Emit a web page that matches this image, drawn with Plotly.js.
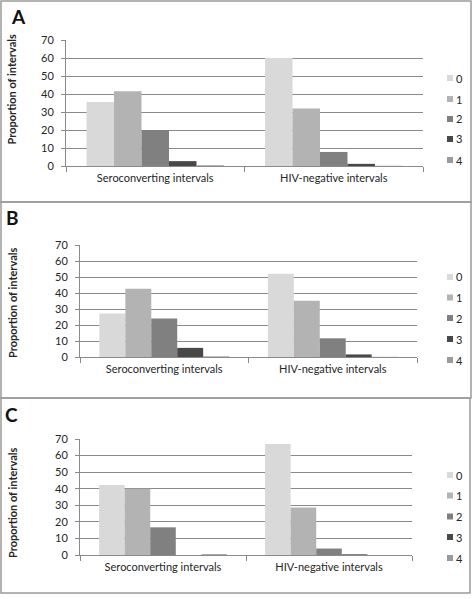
<!DOCTYPE html>
<html>
<head>
<meta charset="utf-8">
<script src="https://cdn.plot.ly/plotly-3.0.1.min.js"></script>
<style>html,body{margin:0;padding:0;background:#fff;}#chart{width:473px;height:599px;}</style>
</head>
<body>
<div id="chart"></div>
<script>
// ---- data ----
const categories = ['Seroconverting intervals', 'HIV-negative intervals'];
const seriesNames = ['0', '1', '2', '3', '4'];
const panelLabels = ['A', 'B', 'C'];
const yTitle = 'Proportion of intervals';

// Panel A values by series (Seroconverting, HIV-negative)
const A0 = [35.5, 60];
const A1 = [41.5, 32];
const A2 = [20, 7.8];
const A3 = [2.7, 1.2];
const A4 = [0.4, 0.1];
// Panel B
const B0 = [27.2, 52];
const B1 = [42.7, 35.2];
const B2 = [24, 11.7];
const B3 = [5.7, 1.6];
const B4 = [0.4, 0.1];
// Panel C
const C0 = [42.3, 67];
const C1 = [40, 28.7];
const C2 = [16.7, 3.9];
const C3 = [0, 0.4];
const C4 = [0.5, 0];

const colors = ['#d9d9d9', '#b3b3b3', '#808080', '#484848', '#9a9a9a'];

// ---- layout helpers ----
const W = 473, H = 599;
const px = x => x / W;
const py = y => 1 - y / H;
const FONT = 'Lato, "Liberation Sans", sans-serif';
const TXT = '#262626';
const LINE = '#8a8a8a';

const panels = [
  {vals: [A0, A1, A2, A3, A4], x: [66, 423], y: [40, 166], box: [1, 1, 471, 202],
   label: [18, 16.5], title: [10.5, 90], legY: [78, 99, 119, 139, 160]},
  {vals: [B0, B1, B2, B3, B4], x: [80, 417], y: [245, 357], box: [1, 202, 471, 398],
   label: [12, 217], title: [12.5, 303.5], legY: [277, 297.5, 318, 339, 360]},
  {vals: [C0, C1, C2, C3, C4], x: [80, 412], y: [439, 555], box: [1, 398, 470, 593],
   label: [11.5, 414.5], title: [12.5, 503.5], legY: [475, 495.5, 516.5, 537, 558]}
];

const data = [];
const layout = {
  width: W, height: H,
  margin: {l: 0, r: 0, t: 0, b: 0},
  paper_bgcolor: '#fff', plot_bgcolor: '#fff',
  barmode: 'group', bargap: 0.23, bargroupgap: 0,
  showlegend: false,
  font: {family: FONT, size: 11, color: TXT},
  shapes: [], annotations: []
};

panels.forEach((p, k) => {
  const s = k === 0 ? '' : String(k + 1);
  p.vals.forEach((v, i) => {
    data.push({
      type: 'bar', x: categories, y: v, name: seriesNames[i],
      marker: {color: colors[i], line: {width: 0}},
      xaxis: 'x' + s, yaxis: 'y' + s, hoverinfo: 'skip'
    });
  });
  layout['xaxis' + s] = {
    domain: [px(p.x[0]), px(p.x[1])], anchor: 'y' + s,
    type: 'category', showline: true, linecolor: LINE, linewidth: 1,
    ticks: 'outside', tickson: 'boundaries', ticklen: 5, tickcolor: LINE, tickwidth: 1,
    showgrid: false, zeroline: false, ticklabelstandoff: 2,
    tickfont: {family: FONT, size: 11, color: TXT}, fixedrange: true
  };
  layout['yaxis' + s] = {
    domain: [py(p.y[1]), py(p.y[0])], anchor: 'x' + s,
    range: [0, 70], dtick: 10, tick0: 0,
    showline: true, linecolor: LINE, linewidth: 1,
    ticks: 'outside', ticklen: 4, tickcolor: LINE, tickwidth: 1,
    showgrid: true, gridcolor: LINE, gridwidth: 1, zeroline: false,
    ticklabelstandoff: 5,
    tickfont: {family: FONT, size: 11, color: TXT}, fixedrange: true
  };
  // panel border
  layout.shapes.push({type: 'rect', xref: 'paper', yref: 'paper',
    x0: px(p.box[0]), x1: px(p.box[2]), y0: py(p.box[1]), y1: py(p.box[3]),
    line: {color: '#9a9a9a', width: 1.5}, fillcolor: 'rgba(0,0,0,0)'});
  // panel label
  layout.annotations.push({xref: 'paper', yref: 'paper', x: px(p.label[0]), y: py(p.label[1]),
    xanchor: 'center', yanchor: 'middle', showarrow: false,
    text: '<b>' + panelLabels[k] + '</b>', font: {family: FONT, size: 19, color: '#111'}});
  // y axis title
  layout.annotations.push({xref: 'paper', yref: 'paper', x: px(p.title[0]), y: py(p.title[1]),
    xanchor: 'center', yanchor: 'middle', showarrow: false, textangle: -90,
    text: '<b>' + yTitle + '</b>', font: {family: FONT, size: 11, color: TXT}});
  // legend
  seriesNames.forEach((n, i) => {
    const cy = p.legY[i];
    layout.shapes.push({type: 'rect', xref: 'paper', yref: 'paper',
      x0: px(447), x1: px(453), y0: py(cy + 3), y1: py(cy - 3),
      line: {width: 0}, fillcolor: colors[i]});
    layout.annotations.push({xref: 'paper', yref: 'paper', x: px(454), y: py(cy),
      xanchor: 'left', yanchor: 'middle', showarrow: false,
      text: n, font: {family: FONT, size: 11, color: TXT}});
  });
});

Plotly.newPlot('chart', data, layout, {displayModeBar: false, staticPlot: true});
</script>
</body>
</html>
